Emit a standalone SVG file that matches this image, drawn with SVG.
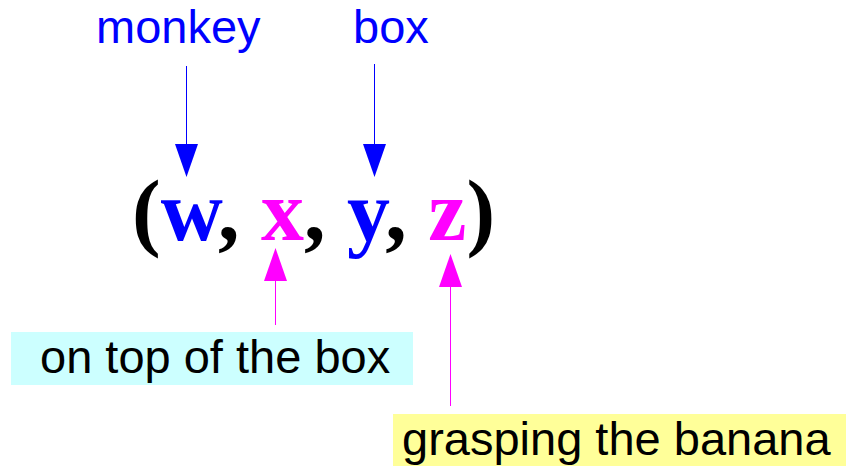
<svg xmlns="http://www.w3.org/2000/svg" width="846" height="466" viewBox="0 0 846 466">
<style>
.lbl{font-family:"Liberation Sans",Arial,sans-serif;font-size:47px}
.blue{fill:#0000ff}
.main{font-family:"Liberation Serif","Times New Roman",serif;font-weight:bold;font-size:86px}
.bl{stroke:#0000ff;stroke-width:1}
.mg{stroke:#ff00ff;stroke-width:1}
</style>
<defs>
<marker id="ab" markerUnits="userSpaceOnUse" markerWidth="22" markerHeight="33" refX="11" refY="33" orient="auto-start-reverse" viewBox="0 0 22 33">
<path d="M0,0 L22,0 L11,33 Z" fill="#0000ff"/>
</marker>
<marker id="am" markerUnits="userSpaceOnUse" markerWidth="22" markerHeight="33" refX="11" refY="33" orient="auto-start-reverse" viewBox="0 0 22 33">
<path d="M0,0 L22,0 L11,33 Z" fill="#ff00ff"/>
</marker>
</defs>
<g id="connectors">
<path d="M186.5,66 V144" class="bl"/><path d="M175,144 H198 L186.5,177 Z" fill="#0000ff"/>
<path d="M374.5,64 V144" class="bl"/><path d="M363,144 H386 L374.5,177 Z" fill="#0000ff"/>
<path d="M275.5,325 V281" class="mg"/><path d="M264,281 H287 L275.5,248 Z" fill="#ff00ff"/>
<path d="M450.5,406 V287" class="mg"/><path d="M439,287 H462 L450.5,254 Z" fill="#ff00ff"/>
</g>
<g id="monkey"><text class="lbl blue" x="96" y="43">monkey</text></g>
<g id="box"><text class="lbl blue" x="353" y="43">box</text></g>
<g id="tuple"><text class="main" x="132" y="240">(<tspan fill="#0000ff">w</tspan>, <tspan fill="#ff00ff">x</tspan>, <tspan fill="#0000ff">y</tspan>, <tspan fill="#ff00ff">z</tspan>)</text></g>
<g id="ontop"><rect x="11" y="332" width="402" height="53" fill="#ccffff"/><text class="lbl" x="40" y="373">on top of the box</text></g>
<g id="grasp"><rect x="393" y="414" width="453" height="52" fill="#ffff99"/><text class="lbl" x="402" y="455">grasping the banana</text></g>
</svg>
